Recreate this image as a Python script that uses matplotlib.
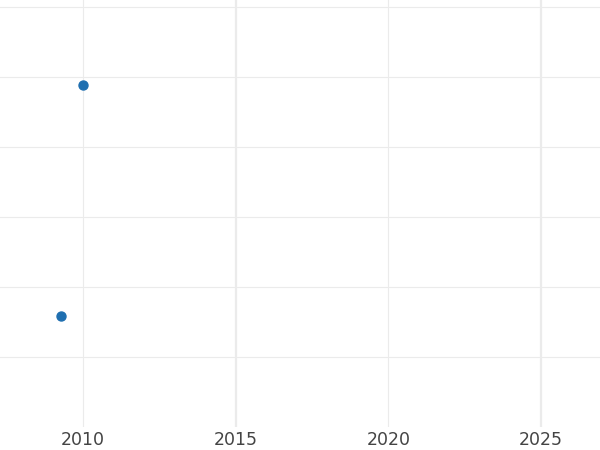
import matplotlib.pyplot as plt

# data
years = [2010.0, 2009.28]
values = [3.89, 0.59]

major_years = [2015, 2025]
minor_years = [2010, 2020]
y_grid = [0, 1, 2, 3, 4, 5]

fig = plt.figure(figsize=(6, 4.5), dpi=100)
ax = fig.add_axes([0, 0.051, 1, 0.949])

for yv in y_grid:
    ax.axhline(yv, color='#ebebeb', lw=0.8, zorder=0)
for xv in minor_years:
    ax.axvline(xv, color='#ebebeb', lw=0.8, zorder=0)
for xv in major_years:
    ax.axvline(xv, color='#ebebeb', lw=1.6, zorder=0)

ax.scatter(years, values, s=42, color='#1f6fb0', zorder=3)

ax.set_xlim(2007.28, 2026.93)
ax.set_ylim(-1.0, 5.1)
ax.set_xticks([2010, 2015, 2020, 2025])
ax.set_yticks([])
ax.tick_params(axis='x', length=0, pad=2.5, labelsize=12.5, labelcolor='#444444')
for s in ax.spines.values():
    s.set_visible(False)

fig.savefig('out.png', dpi=100)
